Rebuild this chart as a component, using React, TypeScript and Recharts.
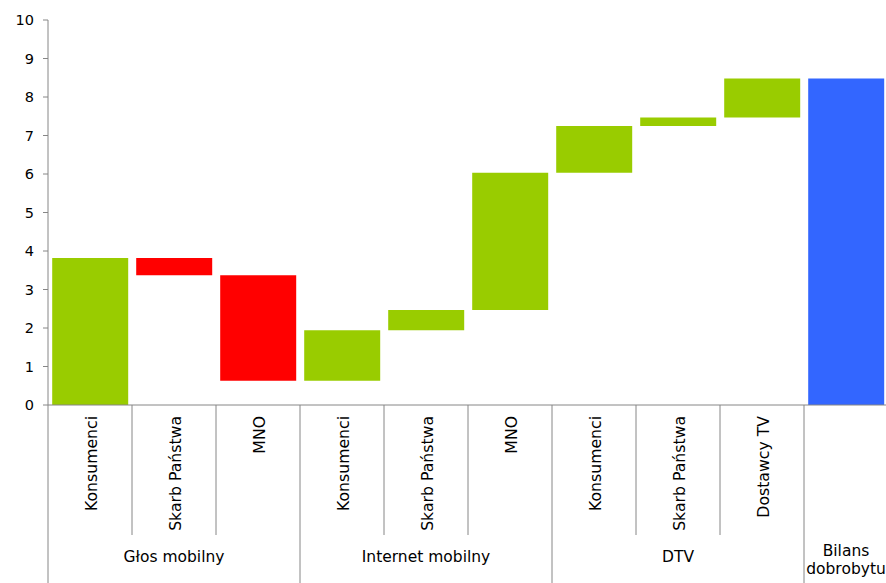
import { BarChart, Bar, XAxis, YAxis, Cell } from 'recharts'

// waterfall: each step goes from start to end
const categories = [
  'Konsumenci', 'Skarb Państwa', 'MNO',
  'Konsumenci', 'Skarb Państwa', 'MNO',
  'Konsumenci', 'Skarb Państwa', 'Dostawcy TV',
  '',
]
const groupOf = [0, 0, 0, 1, 1, 1, 2, 2, 2, 3]
const groups = ['Głos mobilny', 'Internet mobilny', 'DTV', 'Bilans dobrobytu']
const starts = [0, 3.82, 3.37, 0.63, 1.94, 2.47, 6.03, 7.25, 7.47, 0]
const ends = [3.82, 3.37, 0.63, 1.94, 2.47, 6.03, 7.25, 7.47, 8.48, 8.48]
const isTotal = [false, false, false, false, false, false, false, false, false, true]
const yTicks = [0, 1, 2, 3, 4, 5, 6, 7, 8, 9, 10]

const GREEN = '#99CC00'
const RED = '#FF0000'
const BLUE = '#3366FF'
const AXIS = '#868686'
const FONT = '"DejaVu Sans", Verdana, sans-serif'

const CHART_W = 888
const CHART_H = 583
const YAXIS_W = 48
const XAXIS_H = 178
const BAND = (CHART_W - YAXIS_W) / categories.length

const data = categories.map((name, i) => ({
  key: `${groupOf[i]}-${i}`,
  name,
  base: Math.min(starts[i], ends[i]),
  delta: Math.abs(ends[i] - starts[i]),
  color: isTotal[i] ? BLUE : ends[i] >= starts[i] ? GREEN : RED,
}))

function CategoryTick(props: any) {
  const { x, y, index } = props
  const i = index as number
  const band = props.payload?.offset ? props.payload.offset * 2 : BAND
  const left = x - band / 2
  const right = x + band / 2
  const firstOfGroup = i === 0 || groupOf[i] !== groupOf[i - 1]
  const g = groupOf[i]
  const groupSize = groupOf.filter((v) => v === g).length
  const groupCenter = left + (groupSize * band) / 2
  // narrow group gets its label wrapped
  const groupLines = groupSize === 1 ? groups[g].split(' ') : [groups[g]]

  return (
    <g>
      <line x1={left} y1={y} x2={left} y2={firstOfGroup ? y + XAXIS_H : y + 130} stroke={AXIS} strokeWidth={1} />
      {i === categories.length - 1 && (
        <line x1={right} y1={y} x2={right} y2={y + XAXIS_H} stroke={AXIS} strokeWidth={1} />
      )}
      {categories[i] && (
        <text
          transform={`translate(${x},${y + 11}) rotate(-90)`}
          textAnchor="end"
          dy="0.42em"
          fontSize={15.7}
          fontFamily={FONT}
          fill="#000"
        >
          {categories[i]}
        </text>
      )}
      {firstOfGroup &&
        groupLines.map((line, k) => (
          <text
            key={k}
            x={groupCenter}
            y={y + (groupLines.length > 1 ? 151 + k * 18 : 157)}
            textAnchor="middle"
            fontSize={15.5}
            fontFamily={FONT}
            fill="#000"
          >
            {line}
          </text>
        ))}
    </g>
  )
}

export default function App() {
  return (
    <div style={{ position: 'absolute', left: 0, top: 0, width: 886, height: 583, overflow: 'hidden', background: '#fff' }}>
      <BarChart
        width={CHART_W}
        height={CHART_H}
        data={data}
        margin={{ top: 20, right: 0, bottom: 0, left: 0 }}
        barCategoryGap="5%"
      >
        <YAxis
          domain={[0, 10]}
          ticks={yTicks}
          interval={0}
          width={YAXIS_W}
          tickSize={5}
          tickMargin={9}
          axisLine={{ stroke: AXIS }}
          tickLine={{ stroke: AXIS }}
          tick={{ fontSize: 14.5, fill: '#000', fontFamily: FONT }}
        />
        <XAxis
          dataKey="key"
          height={XAXIS_H}
          interval={0}
          tickSize={0}
          tickMargin={0}
          axisLine={{ stroke: AXIS }}
          tickLine={false}
          tick={<CategoryTick />}
        />
        <Bar dataKey="base" stackId="w" fill="transparent" isAnimationActive={false} />
        <Bar dataKey="delta" stackId="w" isAnimationActive={false}>
          {data.map((d) => (
            <Cell key={d.key} fill={d.color} />
          ))}
        </Bar>
      </BarChart>
    </div>
  )
}
